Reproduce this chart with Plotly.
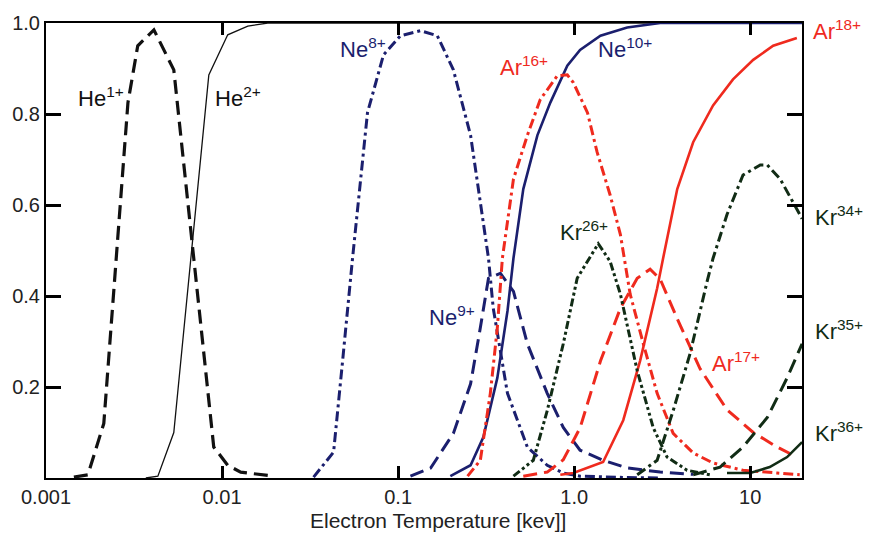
import plotly.graph_objects as go

# ---------------- data ----------------
he1_x = [0.00144, 0.00173, 0.00213, 0.00249, 0.00292, 0.00332, 0.0041, 0.00532, 0.00664, 0.00757, 0.00897, 0.01077, 0.01276, 0.01964]
he1_y = [0.002, 0.007, 0.12, 0.476, 0.825, 0.95, 0.985, 0.897, 0.548, 0.33, 0.068, 0.028, 0.013, 0.004]

he2_x = [0.00369, 0.00432, 0.00532, 0.00664, 0.00841, 0.01077, 0.014, 0.01817, 0.03, 0.1, 1.0, 20.0]
he2_y = [0.0, 0.004, 0.10, 0.48, 0.886, 0.974, 0.993, 1.0, 1.0, 1.0, 1.0, 1.0]

ne8_x = [0.0331, 0.043, 0.0484, 0.0551, 0.067, 0.0826, 0.103, 0.134, 0.167, 0.206, 0.258, 0.293, 0.326, 0.347, 0.418, 0.542, 0.703, 0.867, 1.08, 2.0, 3.0]
ne8_y = [0.002, 0.057, 0.258, 0.483, 0.803, 0.93, 0.972, 0.983, 0.972, 0.897, 0.753, 0.607, 0.483, 0.373, 0.186, 0.068, 0.028, 0.011, 0.004, 0.001, 0.0]

ne9_x = [0.1175, 0.153, 0.206, 0.258, 0.293, 0.326, 0.381, 0.452, 0.542, 0.703, 0.867, 1.08, 1.46, 2.0, 3.08, 4.74]
ne9_y = [0.004, 0.022, 0.098, 0.207, 0.33, 0.439, 0.45, 0.41, 0.295, 0.186, 0.111, 0.061, 0.039, 0.022, 0.013, 0.008]

ne10_x = [0.198, 0.258, 0.305, 0.366, 0.418, 0.452, 0.514, 0.618, 0.732, 0.914, 1.08, 1.41, 2.0, 3.08, 20.0]
ne10_y = [0.004, 0.028, 0.09, 0.22, 0.367, 0.483, 0.635, 0.753, 0.825, 0.906, 0.941, 0.972, 0.99, 1.0, 1.0]

ar16_x = [0.248, 0.293, 0.334, 0.366, 0.391, 0.452, 0.542, 0.642, 0.802, 0.914, 0.989, 1.19, 1.35, 1.60, 1.83, 2.08, 2.47, 2.96, 3.65, 4.74, 6.15, 9.1, 14.2, 19.1]
ar16_y = [0.004, 0.039, 0.186, 0.33, 0.483, 0.657, 0.753, 0.832, 0.884, 0.886, 0.869, 0.803, 0.716, 0.622, 0.535, 0.404, 0.295, 0.186, 0.098, 0.055, 0.033, 0.017, 0.011, 0.007]

ar17_x = [0.514, 0.703, 0.867, 1.08, 1.41, 1.83, 2.28, 2.70, 3.08, 3.85, 5.19, 7.38, 10.4, 14.2, 18.4]
ar17_y = [0.004, 0.013, 0.04, 0.11, 0.257, 0.373, 0.439, 0.459, 0.437, 0.35, 0.24, 0.15, 0.10, 0.068, 0.046]

ar18_x = [0.834, 0.989, 1.46, 1.90, 2.37, 2.96, 3.2, 3.85, 4.74, 6.15, 7.98, 10.4, 13.5, 18.4]
ar18_y = [0.007, 0.011, 0.035, 0.127, 0.258, 0.417, 0.483, 0.635, 0.738, 0.819, 0.876, 0.919, 0.95, 0.967]

kr26_x = [0.452, 0.586, 0.703, 0.867, 1.04, 1.37, 1.60, 1.83, 2.28, 2.81, 3.37, 4.38, 5.92]
kr26_y = [0.004, 0.039, 0.148, 0.295, 0.439, 0.515, 0.476, 0.404, 0.236, 0.111, 0.046, 0.017, 0.007]

kr34_x = [2.28, 2.96, 3.65, 4.55, 5.69, 6.15, 7.38, 9.1, 11.4, 12.5, 14.8, 17.5, 19.7]
kr34_y = [0.007, 0.039, 0.148, 0.273, 0.432, 0.483, 0.579, 0.666, 0.688, 0.688, 0.657, 0.607, 0.57]

kr35_x = [4.74, 6.74, 9.1, 12.5, 16.2, 19.7]
kr35_y = [0.007, 0.024, 0.068, 0.133, 0.22, 0.295]

kr36_x = [7.38, 10.0, 12.9, 16.2, 19.7]
kr36_y = [0.011, 0.011, 0.024, 0.046, 0.079]

x_major_vals = [0.001, 0.01, 0.1, 1.0, 10.0]
x_major_text = ["0.001", "0.01", "0.1", "1.0", "10"]
y_major_vals = [0.2, 0.4, 0.6, 0.8, 1.0]
y_major_text = ["0.2", "0.4", "0.6", "0.8", "1.0"]

# ---------------- styles ----------------
BLACK = "#111111"
NAVY = "#1b1f6e"
RED = "#ef2a1e"
GREEN = "#112c15"

DASH = "14px,7px"
DASHDOT = "10px,4px,3px,4px"
DASHDOTDOT = "8px,3px,3px,3px,3px,3px"

series = [
    (he1_x, he1_y, BLACK, 3.2, DASH),
    (he2_x, he2_y, BLACK, 1.3, "solid"),
    (ne8_x, ne8_y, NAVY, 3.0, DASHDOT),
    (ne9_x, ne9_y, NAVY, 3.0, DASH),
    (ne10_x, ne10_y, NAVY, 2.6, "solid"),
    (ar16_x, ar16_y, RED, 3.0, DASHDOT),
    (ar17_x, ar17_y, RED, 3.0, DASH),
    (ar18_x, ar18_y, RED, 2.6, "solid"),
    (kr26_x, kr26_y, GREEN, 3.0, DASHDOTDOT),
    (kr34_x, kr34_y, GREEN, 3.0, DASHDOT),
    (kr35_x, kr35_y, GREEN, 3.0, DASH),
    (kr36_x, kr36_y, GREEN, 2.6, "solid"),
]

fig = go.Figure()
for xs, ys, col, w, d in series:
    fig.add_trace(go.Scatter(x=xs, y=ys, mode="lines",
                             line=dict(color=col, width=w, dash=d),
                             showlegend=False))

XR = [-3, 1.294]
FONT = "Liberation Sans, Arial, sans-serif"

fig.update_layout(
    width=871, height=537,
    margin=dict(l=45, r=69, t=20, b=59),
    paper_bgcolor="white", plot_bgcolor="white",
    font=dict(family=FONT, size=20, color="#1a1a1a"),
    xaxis=dict(type="log", range=XR, showgrid=False, zeroline=False,
               showline=True, linecolor="black", linewidth=2, mirror="ticks",
               ticks="inside", ticklen=12, tickwidth=2.5, tickcolor="black",
               layer="above traces",
               tickmode="array", tickvals=x_major_vals, ticktext=x_major_text,
               tickfont=dict(size=20, color="#222")),
    yaxis=dict(range=[0, 1], showgrid=False, zeroline=False,
               showline=True, linecolor="black", linewidth=2, mirror="ticks",
               ticks="inside", ticklen=15, tickwidth=2.5, tickcolor="black",
               layer="above traces",
               tickmode="array", tickvals=y_major_vals, ticktext=y_major_text,
               tickfont=dict(size=20, color="#222")),
)

labels = [
    ("He", "1+", 0.0396, 0.838, BLACK),
    ("He", "2+", 0.2206, 0.838, BLACK),
    ("Ne", "8+", 0.3857, 0.945, NAVY),
    ("Ar", "16+", 0.5984, 0.905, RED),
    ("Ne", "10+", 0.7279, 0.945, NAVY),
    ("Ar", "18+", 1.0119, 0.985, RED),
    ("Kr", "26+", 0.6777, 0.543, GREEN),
    ("Ne", "9+", 0.5046, 0.357, NAVY),
    ("Kr", "34+", 1.0145, 0.576, GREEN),
    ("Kr", "35+", 1.0145, 0.325, GREEN),
    ("Ar", "17+", 0.8785, 0.255, RED),
    ("Kr", "36+", 1.0145, 0.102, GREEN),
]
for base, sup, xp, yp, col in labels:
    fig.add_annotation(text=base + "<sup>" + sup + "</sup>", xref="paper", yref="paper", x=xp, y=yp,
                       xanchor="left", yanchor="middle", showarrow=False,
                       font=dict(family=FONT, size=22, color=col))

fig.add_annotation(text="Electron Temperature [kev]]", xref="paper", yref="paper",
                   x=0.519, y=-0.094, xanchor="center", yanchor="middle",
                   showarrow=False, font=dict(family=FONT, size=21, color="#222"))

fig.write_html("out.html")
